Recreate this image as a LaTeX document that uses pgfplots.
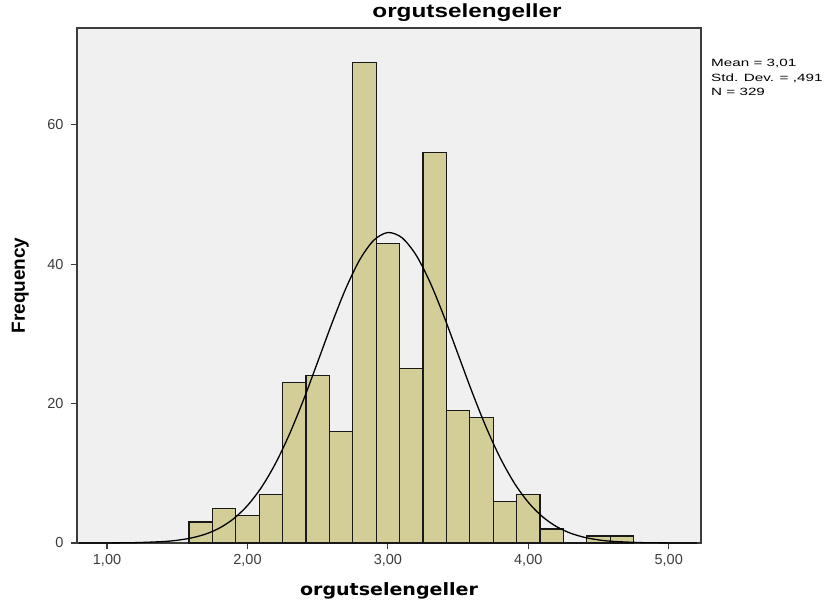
\documentclass[border=0pt]{standalone}
\usepackage{pgfplots}
\pgfplotsset{compat=1.18}
\usepackage{fontspec}
\setmainfont{Liberation Sans}
\newfontfamily\labelfont{DejaVu Sans}
\definecolor{barfill}{RGB}{211,206,151}
\definecolor{plotbg}{RGB}{240,240,240}
\definecolor{axisgray}{RGB}{60,60,60}

\begin{document}
\begin{tikzpicture}
\path[use as bounding box] (-77pt,-62pt) rectangle (751pt,543pt);
\begin{axis}[
  at={(0,0)}, anchor=south west,
  scale only axis, width=624pt, height=515pt,
  xmin=0.786, xmax=5.23, ymin=0, ymax=73.9,
  axis background/.style={fill=plotbg},
  axis line style={axisgray, line width=1.3pt},
  xtick={1,2,3,4,5}, ytick={0,20,40,60},
  tick align=outside, major tick length=6pt,
  tick style={axisgray, line width=1.1pt},
  xtick pos=bottom, ytick pos=left,
  /pgf/number format/assume math mode=true,
  xticklabel style={/pgf/number format/fixed, /pgf/number format/zerofill,
    /pgf/number format/precision=2, /pgf/number format/use comma, yshift=-2pt},
  ticklabel style={font=\fontsize{14.5}{16}\selectfont, text=axisgray},
  yticklabel style={xshift=-4pt},
  xlabel={\scalebox{1.12}[1]{orgutselengeller}}, ylabel={Frequency},
  xlabel style={font=\labelfont\fontsize{17}{19}\selectfont\bfseries,
    at={(axis description cs:0.5,0)}, anchor=base, yshift=-53pt},
  ylabel style={font=\fontsize{19}{21}\selectfont\bfseries, inner sep=0pt,
    at={(axis description cs:-0.0769,0.5)}, anchor=south},
  clip=false,
]
\addplot[ybar interval, fill=barfill, draw=black!90, line width=1.2pt] coordinates {
  (1.5833,3) (1.75,5) (1.9167,4) (2.0833,7) (2.25,23) (2.4167,24)
  (2.5833,16) (2.75,69) (2.9167,43) (3.0833,25) (3.25,56) (3.4167,19)
  (3.5833,18) (3.75,6) (3.9167,7) (4.0833,2) (4.25,0) (4.4167,1)
  (4.5833,1) (4.75,0)};
\addplot[black, line width=1.3pt, smooth, mark=none] coordinates {
  (0.8,0.002) (1.0,0.010) (1.2,0.050) (1.4,0.206) (1.5,0.393) (1.6,0.721)
  (1.7,1.268) (1.8,2.138) (1.9,3.460) (2.0,5.371) (2.1,7.999) (2.2,11.425)
  (2.3,15.66) (2.4,20.59) (2.5,25.98) (2.6,31.44) (2.7,36.50) (2.8,40.66)
  (2.9,43.45) (3.0,44.55) (3.1,43.81) (3.2,41.34) (3.3,37.42) (3.4,32.49)
  (3.5,27.07) (3.6,21.64) (3.7,16.60) (3.8,12.21) (3.9,8.617) (4.0,5.836)
  (4.1,3.790) (4.2,2.362) (4.3,1.412) (4.4,0.810) (4.5,0.446) (4.6,0.235)
  (4.8,0.058) (5.0,0.012) (5.2,0.002)};
% chart title (SPSS places it off-centre)
\node[anchor=base, inner sep=0pt, font=\fontsize{19}{21}\selectfont\bfseries]
  at ([yshift=10pt]rel axis cs:0.625,1) {\scalebox{1.28}[1]{orgutselengeller}};
\node[anchor=base west, inner sep=0pt, font=\fontsize{10.5}{12}\selectfont]
  at ([xshift=10pt, yshift=-39pt]rel axis cs:1,1) {\scalebox{1.45}[1]{Mean = 3,01}};
\node[anchor=base west, inner sep=0pt, font=\fontsize{10.5}{12}\selectfont]
  at ([xshift=10pt, yshift=-53.5pt]rel axis cs:1,1) {\scalebox{1.45}[1]{Std. Dev. = ,491}};
\node[anchor=base west, inner sep=0pt, font=\fontsize{10.5}{12}\selectfont]
  at ([xshift=10pt, yshift=-67.5pt]rel axis cs:1,1) {\scalebox{1.45}[1]{N = 329}};
\end{axis}
\end{tikzpicture}
\end{document}
